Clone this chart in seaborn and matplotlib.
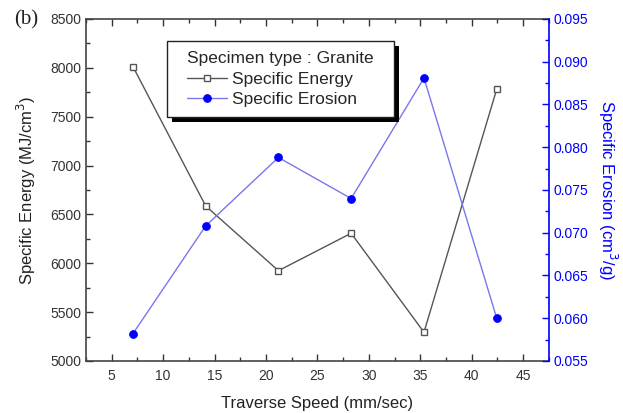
import matplotlib
matplotlib.use("Agg")
import matplotlib.pyplot as plt
import seaborn as sns
import pandas as pd
from matplotlib.ticker import MultipleLocator
from matplotlib.patches import Rectangle

speed = [7.07, 14.14, 21.21, 28.28, 35.36, 42.43]
energy = [8012, 6586, 5924, 6307, 5294, 7781]
erosion = [0.0582, 0.0708, 0.0788, 0.0740, 0.0881, 0.0600]
x_ticks = [5, 10, 15, 20, 25, 30, 35, 40, 45]

df = pd.DataFrame({"speed": speed, "energy": energy, "erosion": erosion})

sns.set_theme(style="ticks")
plt.rcParams['font.family'] = ['Liberation Sans', 'DejaVu Sans']

fig = plt.figure(figsize=(6.23, 4.13), dpi=100)
ax = fig.add_axes([0.138, 0.126, 0.743, 0.828])
ax2 = ax.twinx()

gray = "#555555"
blue = "#0000ff"
lblue = "#7777ee"

sns.lineplot(data=df, x="speed", y="energy", ax=ax, color=gray, lw=1.0,
             marker="s", markersize=4.5, markerfacecolor="white",
             markeredgecolor=gray, markeredgewidth=1.0, label="Specific Energy",
             legend=False)
sns.lineplot(data=df, x="speed", y="erosion", ax=ax2, color=lblue, lw=1.0,
             marker="o", markersize=5.5, markerfacecolor=blue,
             markeredgecolor=blue, label="Specific Erosion", legend=False)

ax.set_xlim(2.5, 47.5)
ax.set_ylim(5000, 8500)
ax2.set_ylim(0.055, 0.095)
ax.set_xticks(x_ticks)
ax.xaxis.set_minor_locator(MultipleLocator(2.5))
ax.yaxis.set_major_locator(MultipleLocator(500))
ax.yaxis.set_minor_locator(MultipleLocator(250))
ax2.yaxis.set_major_locator(MultipleLocator(0.005))
ax2.yaxis.set_minor_locator(MultipleLocator(0.0025))
ax2.yaxis.set_major_formatter(matplotlib.ticker.FormatStrFormatter('%.3f'))

ax.tick_params(axis="both", which="both", direction="in", top=True,
               labelsize=10, colors="#333333", width=1.0)
ax.tick_params(axis="both", which="major", length=5)
ax.tick_params(axis="both", which="minor", length=3)
ax.tick_params(axis="y", right=False)
ax.tick_params(axis="x", pad=6)
ax2.tick_params(axis="y", which="both", direction="in", colors=blue,
                labelsize=10, width=1.0)
ax2.tick_params(axis="y", which="major", length=5)
ax2.tick_params(axis="y", which="minor", length=3)

for s in ["left", "bottom", "top"]:
    ax.spines[s].set_color("#444444")
    ax.spines[s].set_linewidth(1.2)
ax2.spines["right"].set_color(blue)
ax2.spines["right"].set_linewidth(1.2)
for s in ["left", "bottom", "top"]:
    ax2.spines[s].set_visible(False)
ax.spines["right"].set_visible(False)

ax.set_xlabel("Traverse Speed (mm/sec)", fontsize=12, color="#222222", labelpad=9)
ax.set_ylabel("Specific Energy (MJ/cm$^3$)", fontsize=12, color="#222222", labelpad=9)
ax2.set_ylabel("Specific Erosion (cm$^3$/g)", fontsize=12, color=blue,
               rotation=270, labelpad=22)

h1, l1 = ax.get_legend_handles_labels()
h2, l2 = ax2.get_legend_handles_labels()
leg = ax2.legend(h1 + h2, l1 + l2, title="Specimen type : Granite",
                 loc="upper left", bbox_to_anchor=(0.218, 0.905),
                 borderaxespad=0, frameon=False,
                 fontsize=12.5, title_fontsize=12.5,
                 alignment="left", handlelength=2.3, handletextpad=0.3,
                 labelspacing=0.3, borderpad=0)
leg.set_zorder(10)

fig.canvas.draw()
bb = leg.get_window_extent()
padx, pady = 20, 10
fx0, fy0 = bb.x0 - padx, bb.y0 - pady
fw, fh = bb.width + 2 * padx, bb.height + 2 * pady
shadow = Rectangle((fx0 + 5, fy0 - 5), fw, fh, transform=None,
                   facecolor="black", edgecolor="none", zorder=8)
frame = Rectangle((fx0, fy0), fw, fh, transform=None,
                  facecolor="white", edgecolor="#222222", linewidth=1.0,
                  zorder=9)
ax2.add_artist(shadow)
ax2.add_artist(frame)

fig.text(0.022, 0.952, "(b)", fontsize=15, family="Liberation Serif",
         color="#222222", va="center")

fig.savefig("out.png", dpi=100)
